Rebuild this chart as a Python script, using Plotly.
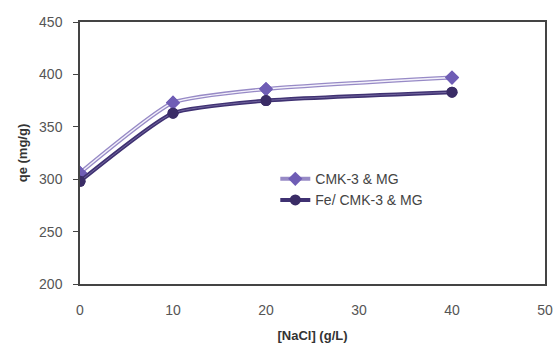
import plotly.graph_objects as go

nacl = [0, 10, 20, 40]
cmk3_mg = [306, 373, 386, 397]
fe_cmk3_mg = [298, 363, 375, 383]

x_ticks = [0, 10, 20, 30, 40, 50]
y_ticks = [200, 250, 300, 350, 400, 450]

SM = 0.5
fig = go.Figure()

def add_series(x, y, name, line_col, inner_col, inner_w, marker_col, symbol):
    fig.add_trace(go.Scatter(
        x=x, y=y, mode="lines+markers", name=name, legendgroup=name,
        line=dict(color=line_col, width=4, shape="spline", smoothing=SM),
        marker=dict(symbol=symbol, size=11, color=marker_col),
    ))
    fig.add_trace(go.Scatter(
        x=x, y=y, mode="lines", showlegend=False, legendgroup=name, hoverinfo="skip",
        line=dict(color=inner_col, width=inner_w, shape="spline", smoothing=SM),
    ))
    fig.add_trace(go.Scatter(
        x=x, y=y, mode="markers", showlegend=False, legendgroup=name,
        marker=dict(symbol=symbol, size=11, color=marker_col),
    ))

add_series(nacl, cmk3_mg, "CMK-3 & MG", "#978ac6", "#f4f2fb", 1.4, "#6f5db5", "diamond")
add_series(nacl, fe_cmk3_mg, "Fe/ CMK-3 & MG", "#3f3172", "#7d72a8", 0.8, "#3a2c66", "circle")

fig.update_layout(
    width=555, height=350,
    margin=dict(l=80, r=10, t=22, b=66),
    paper_bgcolor="white", plot_bgcolor="white",
    font=dict(family="Liberation Sans, Arial, sans-serif", size=12, color="#333"),
    legend=dict(x=0.42, y=0.36, xanchor="left", yanchor="middle",
                bgcolor="rgba(0,0,0,0)", font=dict(size=14, color="#444"),
                tracegroupgap=0, itemwidth=30),
    showlegend=True,
)
fig.update_xaxes(
    range=[0, 50], tickvals=x_ticks, ticks="", showgrid=False, zeroline=False,
    showline=True, linecolor="#444", linewidth=1.5, mirror=True,
    ticklabelstandoff=12, automargin=False,
    title=dict(text="<b>[NaCl] (g/L)</b>", font=dict(size=13, color="#333"), standoff=14),
    tickfont=dict(size=14, color="#555"),
)
fig.update_yaxes(
    range=[200, 450], tickvals=y_ticks, ticks="outside", ticklen=5, tickcolor="#444",
    showgrid=False, zeroline=False,
    showline=True, linecolor="#444", linewidth=1.5, mirror=True,
    ticklabelstandoff=8, automargin=False,
    title=dict(text="<b>qe (mg/g)</b>", font=dict(size=13, color="#333"), standoff=9),
    tickfont=dict(size=14, color="#555"),
)

fig.write_html("out.html")
